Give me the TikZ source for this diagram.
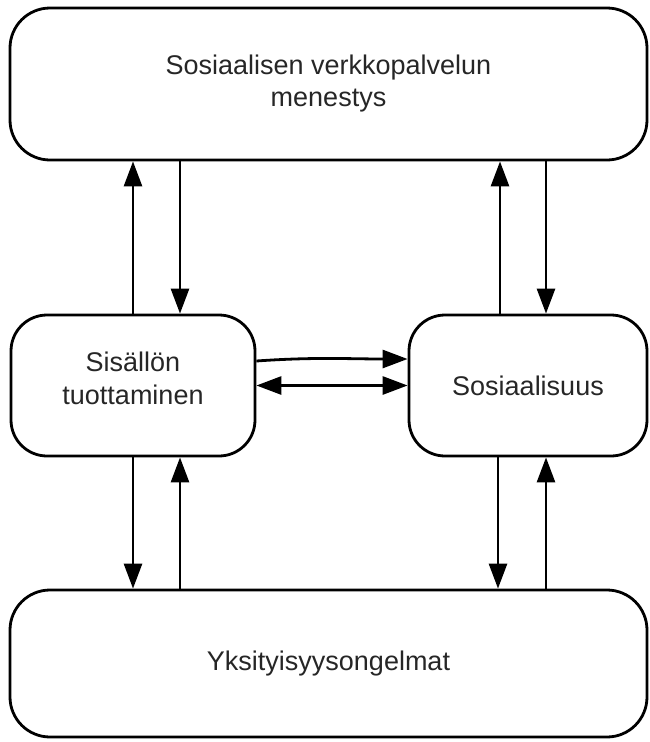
\documentclass[tikz,border=0pt]{standalone}
\usepackage{fontspec}
\setmainfont{Liberation Sans}
\usetikzlibrary{arrows.meta}

\begin{document}
\begin{tikzpicture}[x=1pt, y=-1pt,
    box/.style={draw, line width=2.8pt, rounded corners=40pt, inner sep=0pt, align=center,
                font=\fontsize{27}{32}\selectfont, text=black!85},
    arr/.style={line width=2.8pt, -{Triangle[length=25pt, width=18pt]}}]
          \useasboundingbox (0,0) rectangle (649,742);
          \node[box, minimum width=637pt, minimum height=152pt] (menestys) at (328.5,84) {Sosiaalisen verkkopalvelun\\menestys};
          \node[box, minimum width=244pt, minimum height=141pt, rounded corners=36pt] (sisalto) at (133,385.5) {};
          \node[align=center, font=\fontsize{27}{33}\selectfont, text=black!85] (sisaltoteksti) at ([yshift=7pt]sisalto.center) {Sisällön\\tuottaminen};
          \node[box, minimum width=238pt, minimum height=141pt, rounded corners=36pt] (sosiaal) at (528,385.5) {Sosiaalisuus};
          \node[box, minimum width=637pt, minimum height=147pt] (yksityis) at (328.5,663.5) {Yksityisyysongelmat};
          \draw[arr] (sisalto.north) -- (sisalto.north |- menestys.south);
          \draw[arr] ([xshift=47pt]sisalto.north |- menestys.south) -- ([xshift=47pt]sisalto.north);
          \draw[arr] ([xshift=-28pt]sosiaal.north) -- ([xshift=-28pt]sosiaal.north |- menestys.south);
          \draw[arr] ([xshift=18pt]sosiaal.north |- menestys.south) -- ([xshift=18pt]sosiaal.north);
          \draw[arr] (sisalto.south) -- (sisalto.south |- yksityis.north);
          \draw[arr] ([xshift=47pt]sisalto.south |- yksityis.north) -- ([xshift=47pt]sisalto.south);
          \draw[arr] ([xshift=-30pt]sosiaal.south) -- ([xshift=-30pt]sosiaal.south |- yksityis.north);
          \draw[arr] ([xshift=18pt]sosiaal.south |- yksityis.north) -- ([xshift=18pt]sosiaal.south);
          \draw[arr] ([yshift=24.5pt]sisalto.east) to[out=4, in=180] ([yshift=26.5pt]sosiaal.west);
          \draw[arr, {Triangle[length=25pt, width=18pt]}-{Triangle[length=25pt, width=18pt]}] (sisalto.east) -- (sosiaal.west);
        \end{tikzpicture}
\end{document}
